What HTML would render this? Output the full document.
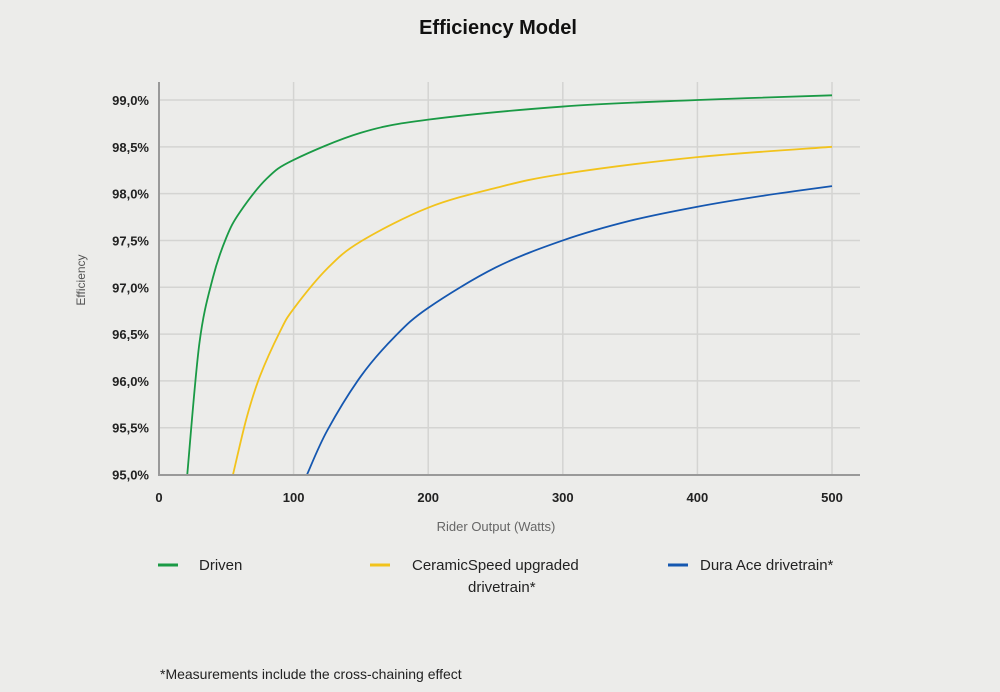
<!DOCTYPE html>
<html><head><meta charset="utf-8"><style>
body{margin:0;background:#ececea;}
svg{display:block;font-family:"Liberation Sans",sans-serif;}
</style></head><body>
<svg id="c" width="1000" height="692" viewBox="0 0 1000 692">
<rect width="1000" height="692" fill="#ececea"/>
<text x="498" y="34" text-anchor="middle" font-size="20" font-weight="bold" fill="#111">Efficiency Model</text>
<g id="grid"></g>
<g id="series"></g>
<line x1="159" y1="82" x2="159" y2="475" stroke="#999" stroke-width="2"/>
<line x1="158" y1="475" x2="860" y2="475" stroke="#999" stroke-width="2"/>
<g id="ticks"></g>
<text x="85" y="280" transform="rotate(-90 85 280)" text-anchor="middle" font-size="12" fill="#555">Efficiency</text>
<text x="496" y="531" text-anchor="middle" font-size="13" fill="#666">Rider Output (Watts)</text>
<g><line x1="158" y1="565" x2="178" y2="565" stroke="#1a9a45" stroke-width="3"/><text x="199" y="570" font-size="15" fill="#222">Driven</text></g>
<g><line x1="370" y1="565" x2="390" y2="565" stroke="#f2c31c" stroke-width="3"/><text x="412" y="570" font-size="15" fill="#222">CeramicSpeed upgraded</text><text x="468" y="592" font-size="15" fill="#222">drivetrain*</text></g>
<g><line x1="668" y1="565" x2="688" y2="565" stroke="#1557b0" stroke-width="3"/><text x="700" y="570" font-size="15" fill="#222">Dura Ace drivetrain*</text></g>
<text x="160" y="679" font-size="14" fill="#222">*Measurements include the cross-chaining effect</text>
</svg>
<script>
const xTicks=[0,100,200,300,400,500];
const yTicks=[95.0,95.5,96.0,96.5,97.0,97.5,98.0,98.5,99.0];
const drivenX=[21,30,40,50,60,80,100,150,200,300,400,500];
const drivenY=[95.0,96.4,97.1,97.53,97.8,98.16,98.36,98.65,98.79,98.93,99.0,99.05];
const ceramicX=[55,65,75,90,100,125,150,200,250,300,400,500];
const ceramicY=[95.0,95.6,96.05,96.53,96.77,97.2,97.49,97.85,98.06,98.21,98.39,98.5];
const duraX=[110,125,150,175,200,250,300,350,400,450,500];
const duraY=[95.0,95.47,96.05,96.47,96.78,97.21,97.5,97.71,97.86,97.98,98.08];
const X=v=>159+v*(832-159)/500;
const Y=v=>474.5-(v-95)*(474.5-100)/4;
const NS='http://www.w3.org/2000/svg';
const grid=document.getElementById('grid'),ticks=document.getElementById('ticks'),ser=document.getElementById('series');
function mk(tag,attrs,parent){const e=document.createElementNS(NS,tag);for(const k in attrs)e.setAttribute(k,attrs[k]);parent.appendChild(e);return e;}
yTicks.forEach(t=>{
 if(t>95){const l=mk('line',{x1:159,x2:860,y1:Y(t),y2:Y(t),stroke:'#d4d4d2','stroke-width':1.5},grid);
 
 }
 const tx=mk('text',{x:149,y:Y(t)+5,'text-anchor':'end','font-size':13,'font-weight':'bold',fill:'#222'},ticks);
 tx.textContent=t.toFixed(1).replace('.',',')+'%';
 
 
});
xTicks.forEach(t=>{
 if(t>0){const l=mk('line',{x1:X(t),x2:X(t),y1:82,y2:474,stroke:'#d4d4d2','stroke-width':1.5},grid);
 
 }
 const tx=mk('text',{x:X(t),y:502,'text-anchor':'middle','font-size':13,'font-weight':'bold',fill:'#222'},ticks);
 tx.textContent=t;
 
 
});
function path(xs,ys){
 const p=xs.map((x,i)=>[X(x),Y(ys[i])]);
 let d='M'+p[0][0]+','+p[0][1];
 for(let i=0;i<p.length-1;i++){
  const p0=p[Math.max(0,i-1)],p1=p[i],p2=p[i+1],p3=p[Math.min(p.length-1,i+2)];
  const c1=[p1[0]+(p2[0]-p0[0])/6,p1[1]+(p2[1]-p0[1])/6];
  const c2=[p2[0]-(p3[0]-p1[0])/6,p2[1]-(p3[1]-p1[1])/6];
  d+=' C'+c1+' '+c2+' '+p2;
 }
 return d;
}
[[drivenX,drivenY,'#1a9a45','series-driven'],[ceramicX,ceramicY,'#f2c31c','series-ceramicspeed'],[duraX,duraY,'#1557b0','series-dura-ace']].forEach(s=>{
 const e=mk('path',{d:path(s[0],s[1]),fill:'none',stroke:s[2],'stroke-width':1.8},ser);
 
 
});
</script>
</body></html>
